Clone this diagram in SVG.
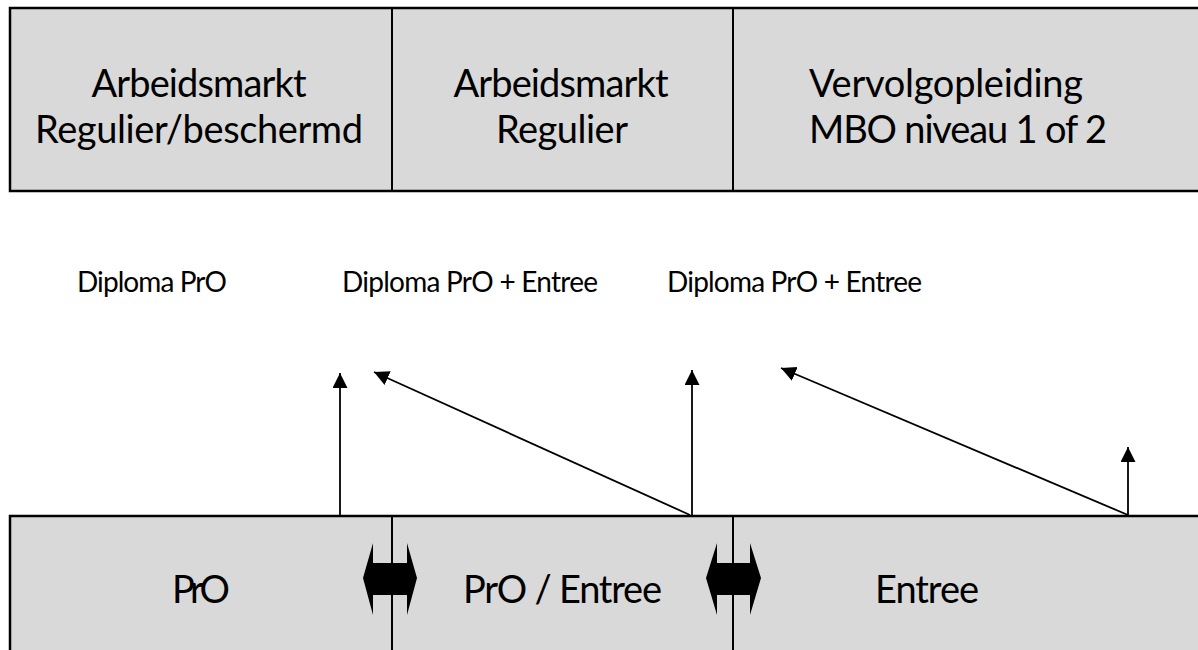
<svg xmlns="http://www.w3.org/2000/svg" width="1198" height="650" viewBox="0 0 1198 650">
<style>
.box{fill:#D9D9D9;stroke:#000;stroke-width:2.5}
.div{stroke:#000;stroke-width:2}
.big{font-family:Lato,"Liberation Sans",sans-serif;font-size:38px;fill:#000}
.lbl{font-family:Lato,"Liberation Sans",sans-serif;font-size:28px;fill:#000}
.con{stroke:#000;stroke-width:1.8;fill:none;marker-end:url(#ah)}
</style>
<defs>
<marker id="ah" markerUnits="userSpaceOnUse" markerWidth="16" markerHeight="16" refX="15" refY="7.5" orient="auto">
<path d="M0,0 L15,7.5 L0,15 z" fill="#000"/>
</marker>
</defs>
<g id="top-row">
<rect class="box" x="10" y="8" width="1200" height="183"/>
<line class="div" x1="392" y1="8" x2="392" y2="191"/>
<line class="div" x1="733" y1="8" x2="733" y2="191"/>
</g>
<g id="node-arbeidsmarkt-regulier-beschermd">
<text class="big" x="199" y="97" text-anchor="middle" textLength="215">Arbeidsmarkt</text>
<text class="big" x="199" y="143" text-anchor="middle" textLength="328">Regulier/beschermd</text>
</g>
<g id="node-arbeidsmarkt-regulier">
<text class="big" x="561" y="97" text-anchor="middle" textLength="215">Arbeidsmarkt</text>
<text class="big" x="562" y="143" text-anchor="middle" textLength="132">Regulier</text>
</g>
<g id="node-vervolgopleiding">
<text class="big" x="809" y="97" textLength="274">Vervolgopleiding</text>
<text class="big" x="809" y="143" textLength="298">MBO niveau 1 of 2</text>
</g>
<g id="labels">
<text class="lbl" x="77" y="292" textLength="150">Diploma PrO</text>
<text class="lbl" x="342" y="292" textLength="256">Diploma PrO + Entree</text>
<text class="lbl" x="667" y="292" textLength="255">Diploma PrO + Entree</text>
</g>
<g id="bottom-row">
<rect class="box" x="10" y="516" width="1200" height="150"/>
<line class="div" x1="392" y1="516" x2="392" y2="650"/>
<line class="div" x1="733" y1="516" x2="733" y2="650"/>
</g>
<g id="node-pro">
<text class="big" x="172" y="603" textLength="58">PrO</text>
</g>
<g id="node-pro-entree">
<text class="big" x="463" y="603" textLength="199">PrO / Entree</text>
</g>
<g id="node-entree">
<text class="big" x="875" y="603" textLength="104">Entree</text>
</g>
<g id="connectors">
<line class="con" x1="340" y1="516" x2="340" y2="373"/>
<line class="con" x1="690" y1="515" x2="374" y2="372"/>
<line class="con" x1="692" y1="515" x2="692" y2="370"/>
<line class="con" x1="1128" y1="515" x2="781" y2="368"/>
<line class="con" x1="1128" y1="517" x2="1128" y2="447"/>
<polygon fill="#000" points="363,578 373,543 373,563 407,563 407,543 417,578 407,615 407,595 373,595 373,615"/>
<polygon fill="#000" points="706,578 717,543 717,563 750,563 750,543 761,578 750,615 750,595 717,595 717,615"/>
<line class="div" x1="392" y1="560" x2="392" y2="598"/>
<line class="div" x1="733" y1="560" x2="733" y2="598"/>
</g>
</svg>
